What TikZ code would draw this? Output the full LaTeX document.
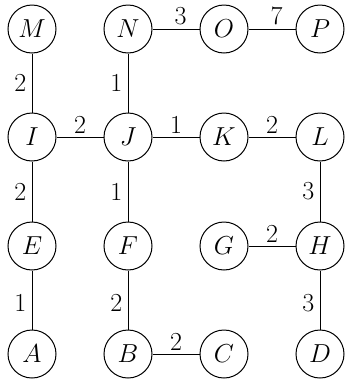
\RequirePackage{fix-cm}
\documentclass[tikz,border=0pt]{standalone}
\usepackage{amsmath, amssymb}
\usepackage{tikz}
\usetikzlibrary{positioning}

\begin{document}
\begin{tikzpicture}[x=0.75pt, y=-0.75pt,
  vtx/.style={circle, draw, line width=0.75pt, minimum size=36pt, inner sep=0pt,
    font=\fontsize{19.5}{23}\selectfont},
  wt/.style={font=\fontsize{19.5}{23}\selectfont, inner sep=2.5pt},
  edge/.style={line width=0.65pt}]
  \useasboundingbox (0,0) rectangle (344,379);

  % 第一行
  \node[vtx] (M) at (32,29) {$M$};
  \node[vtx] (N) at (128,29) {$N$};
  \node[vtx] (O) at (224,29) {$O$};
  \node[vtx] (P) at (320,29) {$P$};

  % 第二行
  \node[vtx] (I) at (32,137) {$I$};
  \node[vtx] (J) at (128,137) {$J$};
  \node[vtx] (K) at (224,137) {$K$};
  \node[vtx] (L) at (320,137) {$L$};

  % 第三行
  \node[vtx] (E) at (32,246) {$E$};
  \node[vtx] (F) at (128,246) {$F$};
  \node[vtx] (G) at (224,246) {$G$};
  \node[vtx] (H) at (320,246) {$H$};

  % 第四行
  \node[vtx] (A) at (32,354) {$A$};
  \node[vtx] (B) at (128,354) {$B$};
  \node[vtx] (C) at (224,354) {$C$};
  \node[vtx] (D) at (320,354) {$D$};

  % 横边（权值在上）
  \draw[edge] (N) -- node[wt, above, pos=0.6] {3} (O);
  \draw[edge] (O) -- node[wt, above, pos=0.6] {7} (P);
  \draw[edge] (I) -- node[wt, above] {2} (J);
  \draw[edge] (J) -- node[wt, above] {1} (K);
  \draw[edge] (K) -- node[wt, above] {2} (L);
  \draw[edge] (G) -- node[wt, above] {2} (H);
  \draw[edge] (B) -- node[wt, above] {2} (C);

  % 竖边（权值在左）
  \draw[edge] (M) -- node[wt, left=1.5pt] {2} (I);
  \draw[edge] (N) -- node[wt, left=1.5pt] {1} (J);
  \draw[edge] (I) -- node[wt, left=1.5pt] {2} (E);
  \draw[edge] (J) -- node[wt, left=1.5pt] {1} (F);
  \draw[edge] (L) -- node[wt, left=1.5pt] {3} (H);
  \draw[edge] (E) -- node[wt, left=1.5pt, pos=0.55] {1} (A);
  \draw[edge] (F) -- node[wt, left=1.5pt, pos=0.55] {2} (B);
  \draw[edge] (H) -- node[wt, left=1.5pt, pos=0.55] {3} (D);
\end{tikzpicture}
\end{document}
